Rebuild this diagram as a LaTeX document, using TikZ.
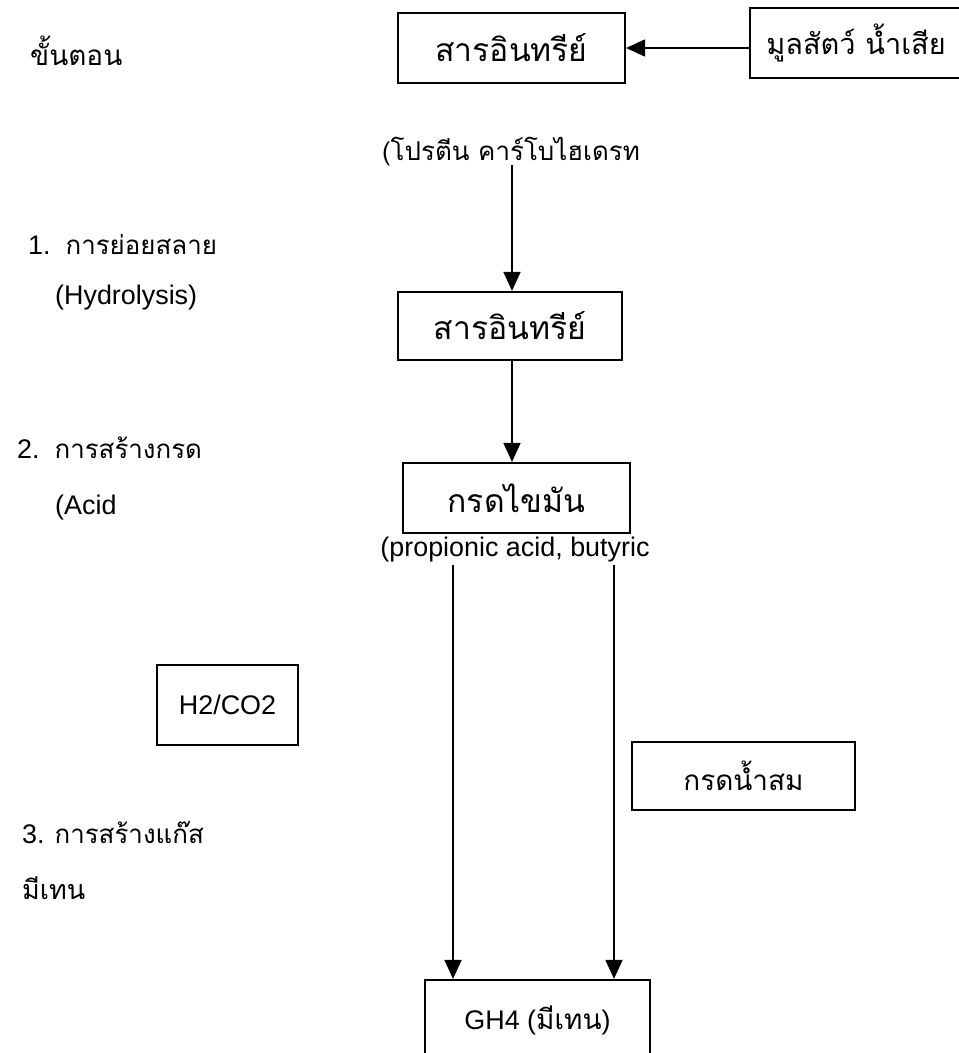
\documentclass[tikz,border=0pt]{standalone}
\usepackage{fontspec}
\setmainfont{Liberation Sans}
\newfontfamily\thai[Script=Thai]{Loma}
\usetikzlibrary{arrows.meta}
\newcommand{\tht}[2][26]{{\fontsize{#1}{#1}\selectfont\thai #2}}
\begin{document}
\begin{tikzpicture}[x=1bp,y=-1bp,
  box/.style={draw,line width=2.2bp,inner sep=0pt,align=center},
  lbl/.style={anchor=west,inner sep=0pt},
  arr/.style={line width=1.7bp,-{Triangle[length=19bp,width=17bp]}},
  every node/.style={font=\fontsize{27}{30}\selectfont}]
\useasboundingbox (0,0) rectangle (959,1053);
% left labels
\node[lbl] (k0) at (30,51) {\tht[28]{ขั้นตอน}};
\node[lbl] (k1) at (28,245) {1.\ \ \tht{การย่อยสลาย}};
\node[lbl] (k1b) at (55,298) {(Hydrolysis)};
\node[lbl] (k2) at (17,448) {2.\ \ \tht{การสร้างกรด}};
\node[lbl] (k2b) at (55,508) {(Acid};
\node[lbl] (k3) at (22,833) {3. \tht{การสร้างแก๊ส}};
\node[lbl] (k3b) at (22,888) {\tht[27]{มีเทน}};
% boxes
\node[box,minimum width=227bp,minimum height=70bp] (A) at (511.5,48) {\tht[32]{สารอินทรีย์}};
\node[box,minimum width=212bp,minimum height=70bp] (S) at (856,43) {\tht[29]{มูลสัตว์ น้ำเสีย}};
\node[inner sep=0pt] (P) at (511,152) {\tht[26]{(โปรตีน คาร์โบไฮเดรท}};
\node[box,minimum width=224bp,minimum height=68bp] (B) at (510,326) {\tht[32]{สารอินทรีย์}};
\node[box,minimum width=227bp,minimum height=70bp] (C) at (516.5,498) {\tht[32]{กรดไขมัน}};
\node[inner sep=0pt] (Q) at (515,550) {(propionic acid, butyric};
\node[box,minimum width=141bp,minimum height=80bp] (H) at (227.5,705) {H2/CO2};
\node[box,minimum width=223bp,minimum height=68bp] (K) at (743.5,776) {\tht[28]{กรดน้ำสม}};
\node[box,minimum width=225bp,minimum height=80bp] (G) at (537.5,1020) {GH4 (\tht[28]{มีเทน})};
% connectors
\draw[arr] (S.west |- A.east) -- (A.east);
\coordinate (a1) at (512,165);
\draw[arr] (a1) -- (a1 |- B.north);
\coordinate (b1) at (512,0);
\draw[arr] (b1 |- B.south) -- (b1 |- C.north);
\coordinate (c1) at (453,565);
\coordinate (c2) at (614,565);
\draw[arr] (c1) -- (c1 |- G.north);
\draw[arr] (c2) -- (c2 |- G.north);
\end{tikzpicture}
\end{document}
